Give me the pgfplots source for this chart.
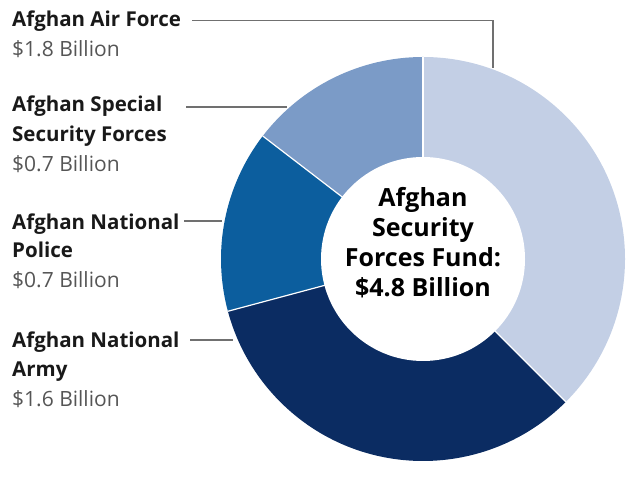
\documentclass[border=0pt]{standalone}
\usepackage{pgfplots}
\pgfplotsset{compat=1.18}
\usepackage{pgfplotstable}
\usepackage{fontspec}
\setmainfont{Open Sans}
\definecolor{slicecol0}{HTML}{C3CFE5}
\definecolor{slicecol1}{HTML}{0B2C62}
\definecolor{slicecol2}{HTML}{0C5E9E}
\definecolor{slicecol3}{HTML}{7B9BC7}
\definecolor{leader}{HTML}{707070}
\definecolor{valgray}{HTML}{555555}
\tikzset{
  lbl/.style={anchor=base west, inner sep=0pt, font=\fontsize{20.5bp}{22bp}\selectfont\bfseries, text=black!90},
  val/.style={anchor=base west, inner sep=0pt, font=\fontsize{21bp}{22bp}\selectfont, text=valgray},
  ctr/.style={anchor=base, inner sep=0pt, font=\fontsize{25bp}{26bp}\selectfont\bfseries, text=black},
}
\pgfplotstableread{
label value
AirForce 1.8
Army 1.6
Police 0.7
Special 0.7
}\slices
\begin{document}
\gdef\total{0}%
\pgfplotstableforeachcolumnelement{value}\of\slices\as\v{%
  \pgfmathsetmacro\t{\total+\v}\xdef\total{\t}}%
\gdef\cum{0}%
\pgfplotstableforeachcolumnelement{value}\of\slices\as\v{%
  \pgfmathsetmacro\a{90-360*\cum/\total}%
  \pgfmathsetmacro\b{90-360*(\cum+\v)/\total}%
  \expandafter\xdef\csname sa\pgfplotstablerow\endcsname{\a}%
  \expandafter\xdef\csname sb\pgfplotstablerow\endcsname{\b}%
  \pgfmathsetmacro\c{\cum+\v}\xdef\cum{\c}}%
\begin{tikzpicture}
\begin{axis}[
  x=1bp, y=1bp, xmin=0, xmax=626, ymin=0, ymax=461,
  hide axis, clip=false, disabledatascaling,
]
\path (axis cs:0,0) rectangle (axis cs:626,461);
\pgfplotsinvokeforeach{0,...,3}{
  \fill[slicecol#1] (axis cs:423,202) -- ++(\csname sa#1\endcsname:202bp)
     arc[start angle=\csname sa#1\endcsname, end angle=\csname sb#1\endcsname, radius=202bp] -- cycle;
}
\pgfplotsinvokeforeach{0,...,3}{
  \draw[white, line width=1.2bp] (axis cs:423,202) -- ++(\csname sa#1\endcsname:202bp);
}
\fill[white] (axis cs:423,202) circle[radius=102bp];
% leader lines
\draw[leader, line width=1.5bp] (axis cs:192,440.5) -- (axis cs:493,440.5) -- (axis cs:493,393);
\draw[leader, line width=1.5bp] (axis cs:186,354) -- (axis cs:287,354);
\draw[leader, line width=1.5bp] (axis cs:184,240) -- (axis cs:222,240);
\draw[leader, line width=1.5bp] (axis cs:190,121) -- (axis cs:233,121);
% labels
\node[lbl] at (axis cs:12,434) {Afghan Air Force};
\node[val] at (axis cs:12,404) {\$1.8 Billion};
\node[lbl] at (axis cs:12,349) {Afghan Special};
\node[lbl] at (axis cs:12,319) {Security Forces};
\node[val] at (axis cs:12,289) {\$0.7 Billion};
\node[lbl] at (axis cs:12,231) {Afghan National};
\node[lbl] at (axis cs:12,203) {Police};
\node[val] at (axis cs:12,173) {\$0.7 Billion};
\node[lbl] at (axis cs:12,113) {Afghan National};
\node[lbl] at (axis cs:12,84) {Army};
\node[val] at (axis cs:12,54) {\$1.6 Billion};
% centre
\node[ctr] at (axis cs:423,254) {Afghan};
\node[ctr] at (axis cs:423,224) {Security};
\node[ctr] at (axis cs:423,194) {Forces Fund:};
\node[ctr] at (axis cs:423,164) {\$4.8 Billion};
\end{axis}
\end{tikzpicture}
\end{document}
